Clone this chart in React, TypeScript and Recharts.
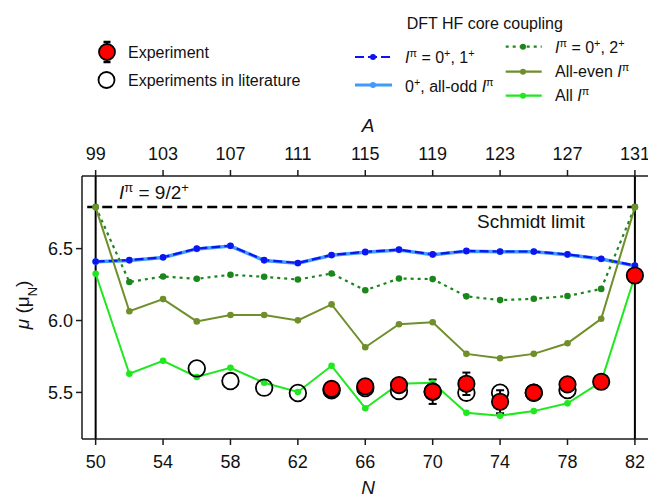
import React from 'react';
import { ComposedChart, Line, Scatter, XAxis, YAxis, ReferenceLine, ErrorBar } from 'recharts';

const FONT = '"Liberation Sans", Arial, Helvetica, sans-serif';

// Neutron numbers of the calculated In isotopes (Z = 49)
const N_VALUES = [50, 52, 54, 56, 58, 60, 62, 64, 66, 68, 70, 72, 74, 76, 78, 80, 82];
const Z_INDIUM = 49;
const N_TICKS = [50, 54, 58, 62, 66, 70, 74, 78, 82];
const MU_TICKS = [5.5, 6.0, 6.5];
const SCHMIDT_LIMIT = 6.79;

// DFT HF core coupling series (mu in nuclear magnetons)
const MU_0_1 = [6.41, 6.42, 6.44, 6.5, 6.52, 6.42, 6.4, 6.456, 6.477, 6.493, 6.46, 6.484, 6.48, 6.48, 6.46, 6.43, 6.382];
const MU_ODD = [6.408, 6.418, 6.438, 6.498, 6.518, 6.418, 6.398, 6.454, 6.475, 6.491, 6.458, 6.482, 6.478, 6.478, 6.458, 6.428, 6.38];
const MU_0_2 = [6.79, 6.268, 6.306, 6.29, 6.318, 6.304, 6.285, 6.327, 6.21, 6.292, 6.288, 6.168, 6.142, 6.151, 6.17, 6.22, 6.79];
const MU_EVEN = [6.787, 6.064, 6.149, 5.994, 6.038, 6.038, 6.001, 6.112, 5.814, 5.974, 5.988, 5.768, 5.738, 5.768, 5.842, 6.012, 6.787];
const MU_ALL = [6.325, 5.63, 5.72, 5.607, 5.671, 5.567, 5.503, 5.685, 5.39, 5.56, 5.567, 5.359, 5.338, 5.37, 5.424, 5.574, 6.31];

// Experiment (this work)
const EXP_N = [64, 66, 68, 70, 72, 74, 76, 78, 80, 82];
const EXP_MU = [5.524, 5.542, 5.551, 5.505, 5.56, 5.435, 5.498, 5.556, 5.574, 6.313];
const EXP_ERR = [0.02, 0.02, 0.015, 0.085, 0.078, 0.08, 0.02, 0.015, 0.01, 0.01];

// Experiments in literature
const LIT_N = [56, 58, 60, 62, 64, 66, 68, 70, 72, 74, 76, 78];
const LIT_MU = [5.667, 5.579, 5.533, 5.496, 5.515, 5.53, 5.51, 5.505, 5.498, 5.498, 5.498, 5.516];

const rows = (xs: number[], ys: number[]) => xs.map((N, i) => ({ N, mu: ys[i] }));
const expRows = EXP_N.map((N, i) => ({ N, mu: EXP_MU[i], err: EXP_ERR[i] }));

const C_BLUE = '#0d14f0';
const C_LBLUE = '#3f9bff';
const C_DGREEN = '#1b861b';
const C_OLIVE = '#6f8f2b';
const C_LIME = '#1ee81e';

const X_DOMAIN: [number, number] = [49.19, 83.252];
const Y_DOMAIN: [number, number] = [5.176, 7.005];

const axisStroke = { stroke: '#1a1a1a', strokeWidth: 1.5 };
const tickStyle = { fontSize: 18, fill: '#111', fontFamily: FONT };

const OpenCircle = (p: any) => (
  <circle cx={p.cx} cy={p.cy} r={8.3} fill="none" stroke="#000" strokeWidth={1.8} />
);
const RedCircle = (p: any) => (
  <circle cx={p.cx} cy={p.cy} r={8.2} fill="#ff0000" stroke="#000" strokeWidth={1.8} />
);

const Sup = ({ children }: { children: React.ReactNode }) => (
  <tspan baselineShift="super" fontSize="0.68em">{children}</tspan>
);

const Ipi = () => (
  <>
    <tspan fontStyle="italic">I</tspan>
    <Sup>π</Sup>
  </>
);

export default function App() {
  const dot = (c: string, r = 3.3) => ({ r, fill: c, stroke: c, strokeWidth: 0 });
  return (
    <div style={{ position: 'relative', width: 648, height: 489, fontFamily: FONT }}>
      <ComposedChart width={648} height={489} margin={{ top: 0, right: 0, bottom: 0, left: 0 }}>
        <XAxis
          xAxisId="b"
          dataKey="N"
          type="number"
          domain={X_DOMAIN}
          allowDataOverflow
          ticks={N_TICKS}
          interval={0}
          orientation="bottom"
          height={58}
          tickSize={6}
          tickMargin={10}
          axisLine={axisStroke}
          tickLine={axisStroke}
          tick={tickStyle}
        />
        <XAxis
          xAxisId="t"
          dataKey="N"
          type="number"
          domain={X_DOMAIN}
          allowDataOverflow
          ticks={N_TICKS}
          interval={0}
          orientation="top"
          height={168}
          tickSize={6}
          tickMargin={10}
          tickFormatter={(v: number) => String(v + Z_INDIUM)}
          axisLine={axisStroke}
          tickLine={axisStroke}
          tick={tickStyle}
        />
        <YAxis
          yAxisId="m"
          type="number"
          domain={Y_DOMAIN}
          allowDataOverflow
          ticks={MU_TICKS}
          interval={0}
          width={74}
          tickSize={6}
          tickMargin={3}
          tickFormatter={(v: number) => v.toFixed(1)}
          axisLine={axisStroke}
          tickLine={axisStroke}
          tick={tickStyle}
        />
        <ReferenceLine
          xAxisId="b"
          yAxisId="m"
          segment={[{ x: 49.5, y: SCHMIDT_LIMIT }, { x: 82.25, y: SCHMIDT_LIMIT }]}
          stroke="#000"
          strokeWidth={2.5}
          strokeDasharray="10 5"
          ifOverflow="visible"
        />
        <ReferenceLine xAxisId="b" yAxisId="m" x={50} stroke="#000" strokeWidth={2} />
        <ReferenceLine xAxisId="b" yAxisId="m" x={82} stroke="#000" strokeWidth={2} />
        <Line
          xAxisId="t"
          yAxisId="m"
          data={rows(N_VALUES, MU_ALL)}
          dataKey="mu"
          stroke="none"
          dot={false}
          activeDot={false}
          isAnimationActive={false}
          legendType="none"
        />
        <Line xAxisId="b" yAxisId="m" data={rows(N_VALUES, MU_ODD)} dataKey="mu" stroke={C_LBLUE} strokeWidth={3.5} dot={dot(C_LBLUE)} isAnimationActive={false} />
        <Line xAxisId="b" yAxisId="m" data={rows(N_VALUES, MU_0_1)} dataKey="mu" stroke={C_BLUE} strokeWidth={2.2} strokeDasharray="9 4" dot={dot(C_BLUE)} isAnimationActive={false} />
        <Line xAxisId="b" yAxisId="m" data={rows(N_VALUES, MU_0_2)} dataKey="mu" stroke={C_DGREEN} strokeWidth={2.2} strokeDasharray="3 4" dot={dot(C_DGREEN)} isAnimationActive={false} />
        <Line xAxisId="b" yAxisId="m" data={rows(N_VALUES, MU_EVEN)} dataKey="mu" stroke={C_OLIVE} strokeWidth={2} dot={dot(C_OLIVE)} isAnimationActive={false} />
        <Line xAxisId="b" yAxisId="m" data={rows(N_VALUES, MU_ALL)} dataKey="mu" stroke={C_LIME} strokeWidth={2} dot={dot(C_LIME)} isAnimationActive={false} />
        <Scatter xAxisId="b" yAxisId="m" data={rows(LIT_N, LIT_MU)} dataKey="mu" shape={OpenCircle} isAnimationActive={false} />
        <Scatter xAxisId="b" yAxisId="m" data={expRows} dataKey="mu" shape={RedCircle} isAnimationActive={false}>
          <ErrorBar dataKey="err" direction="y" width={4} stroke="#000" strokeWidth={2} isAnimationActive={false} />
        </Scatter>
      </ComposedChart>
      <svg
        width={648}
        height={489}
        style={{ position: 'absolute', left: 0, top: 0, pointerEvents: 'none', overflow: 'visible' }}
        fontFamily={FONT}
      >
        {/* Legend: experiments */}
        <line x1={99} y1={34} x2={99} y2={54} stroke="#000" strokeWidth={2} />
        <line x1={95.5} y1={34} x2={102.5} y2={34} stroke="#000" strokeWidth={2.5} />
        <line x1={95.5} y1={54} x2={102.5} y2={54} stroke="#000" strokeWidth={2.5} />
        <circle cx={99} cy={44} r={8} fill="#ff0000" stroke="#000" strokeWidth={1.8} />
        <text x={120} y={49.6} fontSize={16} fill="#111">Experiment</text>
        <circle cx={98.5} cy={72} r={8} fill="none" stroke="#000" strokeWidth={1.8} />
        <text x={120} y={77.6} fontSize={16} fill="#111">Experiments in literature</text>

        {/* Legend: DFT */}
        <text x={398.7} y={20.6} fontSize={16} fill="#111">DFT HF core coupling</text>
        <line x1={347} y1={49} x2={384} y2={49} stroke={C_BLUE} strokeWidth={2.2} strokeDasharray="9 4" />
        <circle cx={365} cy={49} r={3} fill={C_BLUE} />
        <text x={397} y={54.6} fontSize={16} fill="#111">
          <Ipi /> = 0<Sup>+</Sup>, 1<Sup>+</Sup>
        </text>
        <line x1={347} y1={77} x2={384} y2={77} stroke={C_LBLUE} strokeWidth={3} />
        <circle cx={365} cy={77} r={3} fill={C_LBLUE} />
        <text x={397} y={84.3} fontSize={16} fill="#111">
          0<Sup>+</Sup>, all-odd <Ipi />
        </text>
        <line x1={497.7} y1={38.7} x2={533.7} y2={38.7} stroke={C_DGREEN} strokeWidth={2.2} strokeDasharray="3 4" />
        <circle cx={515} cy={38.7} r={3} fill={C_DGREEN} />
        <text x={547} y={44.6} fontSize={16} fill="#111">
          <Ipi /> = 0<Sup>+</Sup>, 2<Sup>+</Sup>
        </text>
        <line x1={497.7} y1={63.7} x2={533.7} y2={63.7} stroke={C_OLIVE} strokeWidth={2.2} />
        <circle cx={515} cy={63.7} r={3} fill={C_OLIVE} />
        <text x={547} y={69.3} fontSize={16} fill="#111">
          All-even <Ipi />
        </text>
        <line x1={497.7} y1={87.7} x2={533.7} y2={87.7} stroke={C_LIME} strokeWidth={2.2} />
        <circle cx={515} cy={87.7} r={3} fill={C_LIME} />
        <text x={547} y={93.3} fontSize={16} fill="#111">
          All <Ipi />
        </text>

        {/* Axis titles */}
        <text x={360} y={123.5} fontSize={19} fontStyle="italic" textAnchor="middle" fill="#111">A</text>
        <text x={360} y={486} fontSize={19} fontStyle="italic" textAnchor="middle" fill="#111">N</text>
        <text transform="translate(20.5, 297) rotate(-90)" fontSize={19} textAnchor="middle" fill="#111">
          <tspan fontStyle="italic">μ</tspan> (μ<tspan baselineShift="sub" fontSize="0.68em">N</tspan>)
        </text>

        {/* Annotations */}
        <text x={111} y={190.6} fontSize={19} fill="#111">
          <Ipi /> = 9/2<Sup>+</Sup>
        </text>
        <text x={469} y={219.5} fontSize={19} fill="#111">Schmidt limit</text>
      </svg>
    </div>
  );
}
